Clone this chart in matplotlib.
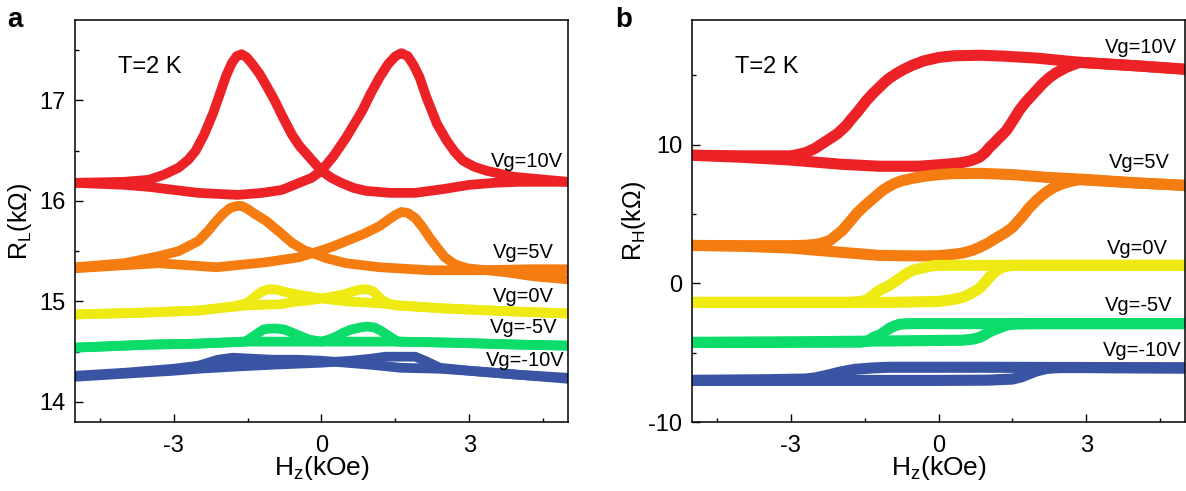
import matplotlib
matplotlib.use('Agg')
import matplotlib.pyplot as plt
from matplotlib.ticker import MultipleLocator

plt.rcParams['font.family'] = ['Liberation Sans', 'DejaVu Sans']
plt.rcParams['mathtext.default'] = 'regular'
plt.rcParams['axes.unicode_minus'] = False

# ---- panel a : R_L (kOhm) vs H_z (kOe) ----
# "dn" branch has its peak at negative field, "up" branch at positive field
a_red_dn_h = [-5, -4, -3.5, -3.2, -2.9, -2.7, -2.55, -2.38, -2.2, -2.05, -1.93, -1.82, -1.72, -1.62, -1.52, -1.4, -1.25, -1.12, -0.95, -0.79, -0.6, -0.45, -0.2, 0, 0.2, 0.4, 0.65, 0.9, 1.4, 1.9, 2.5, 3.0, 3.5, 4.0, 5]
a_red_dn_r = [16.18, 16.19, 16.21, 16.26, 16.33, 16.41, 16.5, 16.66, 16.87, 17.08, 17.25, 17.37, 17.44, 17.46, 17.43, 17.36, 17.26, 17.15, 17.0, 16.84, 16.66, 16.55, 16.41, 16.30, 16.23, 16.18, 16.13, 16.1, 16.08, 16.08, 16.12, 16.16, 16.18, 16.19, 16.19]
a_red_up_h = [-5, -4, -3.5, -2.5, -1.7, -1.2, -0.8, -0.45, -0.2, 0, 0.25, 0.5, 0.83, 1.0, 1.18, 1.35, 1.5, 1.62, 1.75, 1.87, 1.99, 2.13, 2.34, 2.54, 2.7, 2.87, 3.1, 3.35, 3.9, 5]
a_red_up_r = [16.18, 16.16, 16.14, 16.08, 16.06, 16.08, 16.11, 16.18, 16.23, 16.30, 16.45, 16.63, 16.9, 17.07, 17.23, 17.36, 17.44, 17.47, 17.44, 17.35, 17.23, 17.03, 16.77, 16.6, 16.49, 16.4, 16.34, 16.3, 16.24, 16.19]

a_org_dn_h = [-5, -4, -3.3, -2.9, -2.5, -2.3, -2.15, -2.0, -1.85, -1.72, -1.62, -1.5, -1.35, -1.12, -0.85, -0.59, -0.35, -0.18, 0.1, 0.5, 1.18, 2.2, 3.2, 4.2, 5]
a_org_dn_r = [15.34, 15.38, 15.45, 15.5, 15.6, 15.7, 15.79, 15.87, 15.93, 15.95, 15.95, 15.92, 15.87, 15.8, 15.69, 15.58, 15.51, 15.48, 15.43, 15.38, 15.34, 15.31, 15.31, 15.32, 15.32]
a_org_up_h = [-5, -4, -3.3, -2.13, -1.12, -0.45, -0.18, 0.2, 0.5, 0.85, 1.18, 1.35, 1.5, 1.62, 1.75, 1.9, 2.05, 2.2, 2.34, 2.5, 2.7, 2.95, 3.75, 4.3, 5]
a_org_up_r = [15.33, 15.36, 15.38, 15.34, 15.39, 15.44, 15.48, 15.54, 15.6, 15.67, 15.75, 15.81, 15.86, 15.89, 15.88, 15.83, 15.74, 15.63, 15.54, 15.44, 15.37, 15.33, 15.29, 15.25, 15.22]

a_yel_dn_h = [-5, -3.5, -2.48, -1.8, -1.52, -1.42, -1.32, -1.2, -1.08, -0.95, -0.85, -0.7, -0.5, -0.25, 0, 0.5, 0.87, 1.2, 1.6, 2.5, 3.9, 5]
a_yel_dn_r = [14.87, 14.89, 14.91, 14.95, 14.98, 15.02, 15.06, 15.10, 15.12, 15.12, 15.11, 15.09, 15.07, 15.05, 15.03, 15.0, 14.99, 14.98, 14.96, 14.93, 14.9, 14.88]
a_yel_up_h = [-5, -3.5, -2.48, -1.52, -1.0, -0.85, -0.5, -0.25, 0, 0.25, 0.45, 0.65, 0.8, 0.93, 1.05, 1.13, 1.22, 1.35, 1.52, 2.5, 3.9, 5]
a_yel_up_r = [14.87, 14.89, 14.91, 14.96, 14.97, 14.97, 15.0, 15.01, 15.03, 15.05, 15.07, 15.1, 15.12, 15.12, 15.1, 15.06, 15.02, 14.98, 14.96, 14.93, 14.9, 14.88]

a_grn_dn_h = [-5, -3.5, -2.5, -1.55, -1.42, -1.3, -1.18, -1.05, -0.9, -0.75, -0.6, -0.45, -0.25, 0, 0.5, 1.0, 1.5, 2.6, 4, 5]
a_grn_dn_r = [14.54, 14.57, 14.58, 14.6, 14.64, 14.68, 14.72, 14.73, 14.73, 14.72, 14.69, 14.66, 14.62, 14.6, 14.6, 14.6, 14.6, 14.59, 14.57, 14.56]
a_grn_up_h = [-5, -3.5, -2.5, -1.5, -1.0, -0.45, 0, 0.15, 0.3, 0.45, 0.6, 0.78, 0.93, 1.08, 1.2, 1.32, 1.45, 1.55, 2.6, 4, 5]
a_grn_up_r = [14.54, 14.57, 14.58, 14.6, 14.6, 14.6, 14.6, 14.62, 14.65, 14.69, 14.72, 14.74, 14.75, 14.74, 14.71, 14.67, 14.63, 14.6, 14.59, 14.57, 14.56]

a_blu_dn_h = [-5, -4, -3.5, -3, -2.5, -2.1, -1.8, -1.4, -1.0, -0.5, 0, 0.5, 1.0, 1.6, 2.4, 3.0, 4.0, 5]
a_blu_dn_r = [14.26, 14.29, 14.31, 14.33, 14.36, 14.42, 14.44, 14.43, 14.42, 14.42, 14.41, 14.39, 14.37, 14.34, 14.33, 14.31, 14.27, 14.24]
a_blu_up_h = [-5, -4, -3, -2.5, -1.8, -1, 0, 0.6, 1.0, 1.3, 1.9, 2.1, 2.4, 3.0, 4.0, 5]
a_blu_up_r = [14.25, 14.28, 14.31, 14.33, 14.35, 14.37, 14.39, 14.41, 14.43, 14.45, 14.45, 14.41, 14.34, 14.31, 14.27, 14.23]

# ---- panel b : R_H (kOhm) vs H_z (kOe) ----
b_red_dn_h = [5, 4, 2.86, 2, 1.3, 0.83, 0.3, 0, -0.3, -0.53, -0.7, -0.85, -1.0, -1.1, -1.2, -1.33, -1.46, -1.56, -1.66, -1.77, -1.87, -1.96, -2.05, -2.2, -2.35, -2.5, -2.68, -2.85, -3.0, -4, -5]
b_red_dn_r = [15.45, 15.7, 15.95, 16.25, 16.4, 16.46, 16.42, 16.3, 16.05, 15.74, 15.45, 15.15, 14.8, 14.5, 14.15, 13.7, 13.2, 12.75, 12.3, 11.85, 11.4, 11.1, 10.8, 10.45, 10.1, 9.75, 9.45, 9.3, 9.2, 9.2, 9.25]
b_red_up_h = [-5, -4, -3, -2, -1.2, -0.4, 0.16, 0.45, 0.65, 0.83, 0.95, 1.03, 1.12, 1.2, 1.3, 1.38, 1.5, 1.64, 1.75, 1.85, 1.98, 2.11, 2.25, 2.39, 2.6, 2.86, 4, 5]
b_red_up_r = [9.24, 9.1, 8.9, 8.6, 8.45, 8.45, 8.6, 8.7, 8.85, 9.1, 9.45, 9.8, 10.1, 10.4, 10.75, 11.05, 11.7, 12.5, 13.0, 13.4, 13.9, 14.4, 14.85, 15.2, 15.6, 15.95, 15.7, 15.45]

b_org_dn_h = [5, 4, 3, 2.19, 1.5, 0.83, 0.3, 0, -0.3, -0.53, -0.75, -0.9, -1.02, -1.14, -1.27, -1.4, -1.53, -1.66, -1.8, -1.95, -2.08, -2.2, -2.33, -2.47, -2.7, -3.0, -4, -5]
b_org_dn_r = [7.07, 7.25, 7.5, 7.65, 7.85, 7.94, 7.92, 7.85, 7.72, 7.58, 7.4, 7.2, 6.97, 6.7, 6.3, 5.9, 5.5, 5.05, 4.45, 3.83, 3.45, 3.1, 2.95, 2.82, 2.75, 2.72, 2.72, 2.74]
b_org_up_h = [-5, -4, -3, -2, -1.2, -0.4, 0, 0.3, 0.5, 0.7, 0.83, 1.0, 1.18, 1.35, 1.5, 1.68, 1.85, 2.02, 2.19, 2.35, 2.52, 2.7, 2.86, 4, 5]
b_org_up_r = [2.74, 2.68, 2.55, 2.25, 2.02, 1.98, 2.0, 2.1, 2.2, 2.4, 2.6, 2.9, 3.3, 3.65, 4.04, 4.75, 5.5, 6.1, 6.6, 6.95, 7.2, 7.38, 7.48, 7.25, 7.07]

b_yel_dn_h = [5, 3, 1, 0, -0.1, -0.22, -0.35, -0.53, -0.7, -0.85, -1.0, -1.2, -1.35, -1.46, -1.6, -1.8, -3, -5]
b_yel_dn_r = [1.3, 1.3, 1.3, 1.3, 1.28, 1.2, 1.1, 0.94, 0.6, 0.2, -0.15, -0.5, -0.9, -1.2, -1.32, -1.37, -1.37, -1.37]
b_yel_up_h = [-5, -3, -1, 0, 0.16, 0.35, 0.49, 0.65, 0.83, 0.93, 1.03, 1.13, 1.24, 1.35, 1.5, 1.7, 3, 5]
b_yel_up_r = [-1.37, -1.37, -1.37, -1.3, -1.23, -1.12, -1.0, -0.75, -0.36, 0.02, 0.43, 0.8, 1.08, 1.22, 1.3, 1.3, 1.3, 1.3]

b_grn_dn_h = [5, 3, 1, 0, -0.6, -0.79, -0.9, -1.0, -1.1, -1.2, -1.3, -1.36, -1.45, -1.6, -3, -5]
b_grn_dn_r = [-2.9, -2.9, -2.9, -2.9, -2.9, -2.95, -3.08, -3.25, -3.5, -3.75, -3.85, -4.0, -4.18, -4.24, -4.25, -4.26]
b_grn_up_h = [-5, -3, -1, 0.49, 0.7, 0.83, 0.93, 1.03, 1.14, 1.24, 1.35, 1.45, 1.6, 2, 5]
b_grn_up_r = [-4.26, -4.22, -4.15, -4.1, -4.02, -3.9, -3.72, -3.5, -3.33, -3.2, -3.05, -2.96, -2.92, -2.9, -2.9]

b_blu_dn_h = [5, 3, 1, 0, -1.0, -1.34, -1.7, -2.0, -2.2, -2.35, -2.5, -2.7, -3.5, -5]
b_blu_dn_r = [-6.1, -6.07, -6.05, -6.05, -6.05, -6.1, -6.2, -6.4, -6.58, -6.7, -6.82, -6.9, -6.95, -7.0]
b_blu_up_h = [-5, -3, -1, 0, 1.0, 1.5, 1.7, 1.85, 2.0, 2.19, 2.35, 2.5, 3, 5]
b_blu_up_r = [-7.0, -7.0, -7.0, -7.0, -6.98, -6.9, -6.72, -6.5, -6.3, -6.14, -6.09, -6.07, -6.07, -6.1]

gate_labels = ['Vg=10V', 'Vg=5V', 'Vg=0V', 'Vg=-5V', 'Vg=-10V']
colors = ['#EC2227', '#F57C10', '#EFEA14', '#0CDC6A', '#3A54A4']

a_curves = [(a_red_dn_h, a_red_dn_r, a_red_up_h, a_red_up_r),
            (a_org_dn_h, a_org_dn_r, a_org_up_h, a_org_up_r),
            (a_yel_dn_h, a_yel_dn_r, a_yel_up_h, a_yel_up_r),
            (a_grn_dn_h, a_grn_dn_r, a_grn_up_h, a_grn_up_r),
            (a_blu_dn_h, a_blu_dn_r, a_blu_up_h, a_blu_up_r)]
b_curves = [(b_red_dn_h, b_red_dn_r, b_red_up_h, b_red_up_r),
            (b_org_dn_h, b_org_dn_r, b_org_up_h, b_org_up_r),
            (b_yel_dn_h, b_yel_dn_r, b_yel_up_h, b_yel_up_r),
            (b_grn_dn_h, b_grn_dn_r, b_grn_up_h, b_grn_up_r),
            (b_blu_dn_h, b_blu_dn_r, b_blu_up_h, b_blu_up_r)]

# label anchors (right edge, baseline) in data coords
a_lab_x = [4.9, 4.72, 4.72, 4.78, 4.93]
a_lab_y = [16.335, 15.43, 14.99, 14.69, 14.36]
b_lab_x = [4.83, 4.69, 4.65, 4.75, 4.93]
b_lab_y = [16.6, 8.3, 2.1, -2.0, -5.27]


def drawPanel(ax, curves, labx, laby, lw):
    for i in range(len(curves)):
        c = curves[i]
        ax.plot(c[0], c[1], color=colors[i], lw=lw, solid_capstyle='round', solid_joinstyle='round')
        ax.plot(c[2], c[3], color=colors[i], lw=lw, solid_capstyle='round', solid_joinstyle='round')
        ax.text(labx[i], laby[i], gate_labels[i], fontsize=14.5, ha='right', va='baseline')
    ax.set_xlim(-5, 5)
    ax.xaxis.set_major_locator(MultipleLocator(3))
    ax.xaxis.set_minor_locator(MultipleLocator(1.5))
    ax.tick_params(which='both', direction='in', top=False, right=False, labelsize=17, width=1, pad=7)
    ax.tick_params(axis='x', which='both', pad=9)
    ax.tick_params(which='major', length=5.5)
    ax.tick_params(which='minor', length=3)
    for s in ax.spines.values():
        s.set_linewidth(1.1)
    ax.set_xlabel('H$_z$(kOe)', fontsize=19)
    ax.xaxis.set_label_coords(0.5, -0.08)
    ax.text(0.087, 0.868, 'T=2 K', transform=ax.transAxes, fontsize=17, va='baseline')


fig = plt.figure(figsize=(11.86, 4.91), dpi=100)
ax1 = fig.add_axes([0.0632, 0.1405, 0.4157, 0.8187])
ax2 = fig.add_axes([0.5835, 0.1405, 0.4157, 0.8187])

drawPanel(ax1, a_curves, a_lab_x, a_lab_y, 7)
ax1.set_ylim(13.8, 17.8)
ax1.yaxis.set_major_locator(MultipleLocator(1))
ax1.yaxis.set_minor_locator(MultipleLocator(0.5))
ax1.set_ylabel('R$_L$(k\u03a9)', fontsize=18)
ax1.yaxis.set_label_coords(-0.083, 0.5)

drawPanel(ax2, b_curves, b_lab_x, b_lab_y, 8)
ax2.set_ylim(-10, 19)
ax2.yaxis.set_major_locator(MultipleLocator(10))
ax2.yaxis.set_minor_locator(MultipleLocator(5))
ax2.set_ylabel('R$_H$(k\u03a9)', fontsize=18)
ax2.yaxis.set_label_coords(-0.089, 0.5)

fig.text(0.006, 0.945, 'a', fontsize=20, fontweight='bold', va='baseline')
fig.text(0.5186, 0.945, 'b', fontsize=20, fontweight='bold', va='baseline')

fig.savefig('out.png', dpi=100)
plt.close(fig)
